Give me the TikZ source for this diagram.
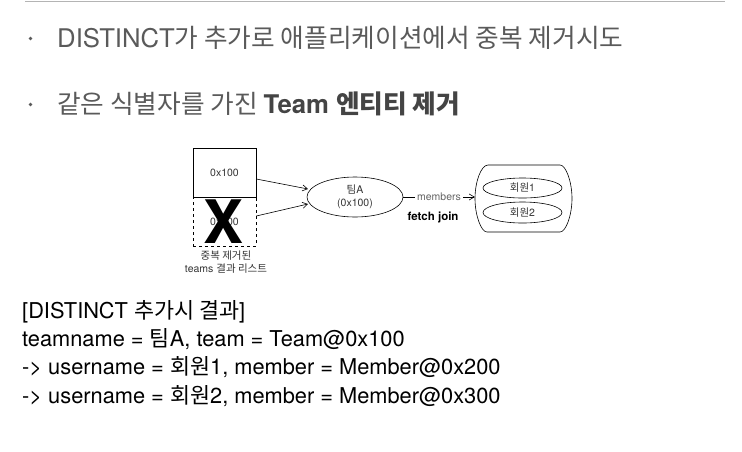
\documentclass[tikz,border=0pt]{standalone}
\usepackage{fontspec}
\setmainfont{TeX Gyre Heros}
\newfontfamily\kr{Noto Sans CJK KR}
\usetikzlibrary{arrows.meta,shapes.geometric}
\definecolor{titlegrey}{HTML}{5A5A5A}
\definecolor{darkgrey}{HTML}{444444}
\definecolor{rulegrey}{HTML}{B4B4B4}
\tikzset{
  titletext/.style={anchor=base west, inner sep=0pt, text=titlegrey, font=\fontsize{25.7}{30}\selectfont},
  codetext/.style={anchor=base west, inner sep=0pt, text=black, font=\fontsize{21.8}{26}\selectfont},
  small/.style={font=\fontsize{10.5}{12.5}\selectfont, text=black!80},
  ell/.style={ellipse, draw, line width=0.6pt, inner sep=0pt},
  arr/.style={-{Straight Barb[length=5pt,width=6pt]}, line width=0.6pt},
}
\begin{document}
\begin{tikzpicture}[x=1pt,y=-1pt]
\useasboundingbox (0,0) rectangle (742,451);
% top rule
\draw[rulegrey, line width=1.5pt] (25,1.5) -- (725,1.5);
% bullets
\fill[titlegrey] (30.5,38.5) circle (1.8);
\fill[titlegrey] (30.5,104.5) circle (1.8);
\node[titletext] (t1) at (57,47) {DISTINCT{\kr 가 추가로 애플리케이션에서 중복 제거시도}};
\node[titletext] (t2) at (57,113) {{\kr 같은 식별자를 가진 }\textcolor{darkgrey}{\bfseries Team {\kr 엔티티 제거}}};
% list boxes
\node[draw, line width=0.6pt, minimum width=63pt, minimum height=49pt, inner sep=0pt, small] (b1) at (224.5,172.5) {0x100};
\node[draw, dashed, line width=0.6pt, minimum width=63pt, minimum height=49pt, inner sep=0pt, small] (b2) at (224.5,221.5) {0x100};
\node[font=\fontsize{60}{60}\bfseries\selectfont, inner sep=0pt, text height=42pt, text depth=0pt, anchor=base] (x) at (223.5,243) {X};
\node[small, align=center, inner sep=0pt, anchor=north] (lbl) at (226,251) {{\kr 중복 제거된}\\teams {\kr 결과 리스트}};
% team ellipse
\node[ell, minimum width=96pt, minimum height=40pt, small, align=center] (team) at (355,197) {{\kr 팀}A\\(0x100)};
\draw[arr] (b1.east |- 0,179) -- (308,189);
\draw[arr] (b2.east |- 0,216) -- (308,204);
% container
\node[minimum width=97pt, minimum height=67pt, inner sep=0pt] (cont) at (523.5,198.5) {};
\draw[line width=0.6pt] (488,165) -- (560,165) .. controls (566,165) and (572,182) .. (572,198.5)
  .. controls (572,215) and (566,232) .. (560,232) -- (487,232)
  .. controls (481,232) and (475,215) .. (475,198.5)
  .. controls (475,182) and (481,165) .. cycle;
\node[ell, minimum width=79pt, minimum height=20pt, small] (m1) at (522.5,188) {{\kr 회원}1};
\node[ell, minimum width=79pt, minimum height=21pt, small] (m2) at (522.5,212.5) {{\kr 회원}2};
\draw[arr] (team.east) -- (cont.west |- team.east) node[midway, fill=white, inner sep=2pt, small, text=black!60] (mem) {members};
\node[font=\fontsize{11.5}{13}\bfseries\selectfont, inner sep=0pt] (fj) at (433,217) {fetch join};
% result text
\node[codetext] (r1) at (22,318) {[DISTINCT {\kr 추가시 결과}]};
\node[codetext] (r2) at (22,346) {teamname = {\kr 팀}A, team = Team@0x100};
\node[codetext] (r3) at (22,374) {-> username = {\kr 회원}1, member = Member@0x200};
\node[codetext] (r4) at (22,403) {-> username = {\kr 회원}2, member = Member@0x300};
\end{tikzpicture}
\end{document}
